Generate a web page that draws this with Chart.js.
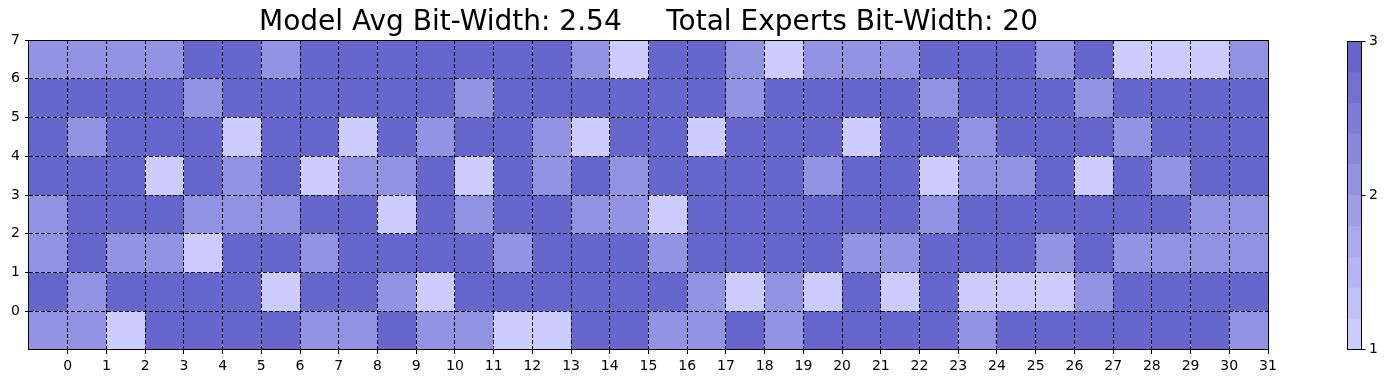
<!DOCTYPE html>
<html>
<head>
<meta charset="utf-8">
<script src="https://cdn.jsdelivr.net/npm/chart.js@4/dist/chart.umd.min.js"></script>
<style>
  body { margin: 0; background: #fff; }
</style>
</head>
<body>
<canvas id="bitWidthMap" width="1390" height="384"></canvas>
<script>
// tick labels
const expertTicks = [0,1,2,3,4,5,6,7,8,9,10,11,12,13,14,15,16,17,18,19,20,21,22,23,24,25,26,27,28,29,30,31];
const layerTicks = [0,1,2,3,4,5,6,7];
const colorbarTicks = [1, 2, 3];

// bit-width per cell, one array per row (top row first)
const row0 = [2,2,2,2,3,3,2,3,3,3,3,3,3,3,2,1,3,3,2,1,2,2,2,3,3,3,2,3,1,1,1,2];
const row1 = [3,3,3,3,2,3,3,3,3,3,3,2,3,3,3,3,3,3,2,3,3,3,3,2,3,3,3,2,3,3,3,3];
const row2 = [3,2,3,3,3,1,3,3,1,3,2,3,3,2,1,3,3,1,3,3,3,1,3,3,2,3,3,3,2,3,3,3];
const row3 = [3,3,3,1,3,2,3,1,2,2,3,1,3,2,3,2,3,3,3,3,2,3,3,1,2,2,3,1,3,2,3,3];
const row4 = [2,3,3,3,2,2,2,3,3,1,3,2,3,3,2,2,1,3,3,3,3,3,3,2,3,3,3,3,3,3,2,2];
const row5 = [2,3,2,2,1,3,3,2,3,3,3,3,2,3,3,3,2,3,3,3,3,2,2,3,3,3,2,3,2,2,2,2];
const row6 = [3,2,3,3,3,3,1,3,3,2,1,3,3,3,3,3,3,2,1,2,1,3,1,3,1,1,1,2,3,3,3,3];
const row7 = [2,2,1,3,3,3,3,2,2,3,2,2,1,1,3,3,2,2,3,2,3,3,3,3,2,3,3,3,3,3,3,2];
const rows = [row0, row1, row2, row3, row4, row5, row6, row7];

const titleText = 'Model Avg Bit-Width: 2.54     Total Experts Bit-Width: 20';

// colormap: 10 steps from light lavender to slate blue
const cLow = [204, 204, 255], cHigh = [102, 102, 204];
function binColor(i) {
  const t = i / 9;
  const c = cLow.map((a, k) => Math.round(a + (cHigh[k] - a) * t));
  return `rgb(${c[0]},${c[1]},${c[2]})`;
}
function valueColor(v) {
  const idx = Math.min(Math.floor((v - 1) / 2 * 10), 9);
  return binColor(idx);
}

const cells = [];
rows.forEach((row, r) => {
  row.forEach((v, c) => {
    cells.push({ x: c - 0.5, y: 6.5 - r, v: v });
  });
});

const FONT = 'DejaVu Sans';

const heatmapPlugin = {
  id: 'heatmap',
  beforeDatasetsDraw(chart) {
    const { ctx, scales: { x, y } } = chart;
    ctx.save();
    chart.data.datasets[0].data.forEach(p => {
      const x0 = x.getPixelForValue(p.x - 0.5), x1 = x.getPixelForValue(p.x + 0.5);
      const y0 = y.getPixelForValue(p.y + 0.5), y1 = y.getPixelForValue(p.y - 0.5);
      ctx.fillStyle = valueColor(p.v);
      ctx.fillRect(x0, y0, x1 - x0, y1 - y0);
    });
    ctx.restore();
  },
  afterDraw(chart) {
    const { ctx, chartArea: a } = chart;
    ctx.save();
    // frame
    ctx.strokeStyle = '#000';
    ctx.lineWidth = 1;
    ctx.strokeRect(Math.round(a.left) - 0.5, Math.round(a.top) + 0.5,
      Math.round(a.right - a.left) + 1, Math.round(a.bottom - a.top) - 1);

    // title
    ctx.fillStyle = '#000';
    ctx.font = `28px "${FONT}"`;
    ctx.textAlign = 'center';
    ctx.textBaseline = 'alphabetic';
    ctx.fillText(titleText, (a.left + a.right) / 2, 30);

    // colorbar
    const cbL = a.right + 79, cbW = 14, cbT = a.top + 1, cbB = a.bottom - 1;
    const segH = (cbB - cbT) / 10;
    for (let i = 0; i < 10; i++) {
      ctx.fillStyle = binColor(i);
      ctx.fillRect(cbL, cbB - (i + 1) * segH, cbW, segH + 0.5);
    }
    ctx.strokeStyle = '#000';
    ctx.fillStyle = '#000';
    ctx.strokeRect(cbL + 0.5, cbT + 0.5, cbW, cbB - cbT);
    ctx.font = `14px "${FONT}"`;
    ctx.textAlign = 'left';
    ctx.textBaseline = 'middle';
    colorbarTicks.forEach(v => {
      const py = Math.round(cbB - (v - 1) / 2 * (cbB - cbT)) + 0.5;
      ctx.beginPath();
      ctx.moveTo(cbL + cbW + 0.5, py);
      ctx.lineTo(cbL + cbW + 4.5, py);
      ctx.stroke();
      ctx.fillText(String(v), cbL + cbW + 8, py);
    });
    ctx.restore();
  }
};

function axisOptions(ticksList, min, max, pad) {
  return {
    type: 'linear',
    min: min,
    max: max,
    afterBuildTicks: scale => { scale.ticks = ticksList.map(v => ({ value: v })); },
    ticks: { color: '#000', font: { family: FONT, size: 14 }, padding: pad, z: 1 },
    grid: { z: 1, color: '#000', lineWidth: 1, drawTicks: true, tickLength: 4, tickColor: '#000' },
    border: { display: false, dash: [4, 2] }
  };
}

const xOpts = axisOptions(expertTicks, -1, 31, 4);
xOpts.afterFit = scale => { scale.height = 34; };
const yOpts = axisOptions(layerTicks, -1, 7, 5);
yOpts.afterFit = scale => { scale.width = 29; };

new Chart(document.getElementById('bitWidthMap').getContext('2d'), {
  type: 'scatter',
  data: {
    datasets: [{
      label: 'bit-width',
      data: cells,
      pointRadius: 0,
      pointHoverRadius: 0
    }]
  },
  options: {
    responsive: false,
    animation: false,
    layout: { padding: { top: 40, right: 122, left: 0, bottom: 0 } },
    plugins: {
      legend: { display: false },
      tooltip: { enabled: false }
    },
    scales: { x: xOpts, y: yOpts }
  },
  plugins: [heatmapPlugin]
});
</script>
</body>
</html>
